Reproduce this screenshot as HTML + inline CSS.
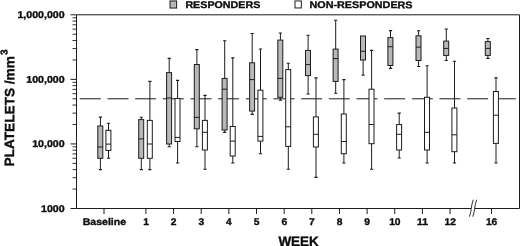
<!DOCTYPE html>
<html><head><meta charset="utf-8"><title>Platelets by week</title>
<style>html,body{margin:0;padding:0;background:#fff;overflow:hidden;}svg{display:block;}.t{font-family:'Liberation Sans',Arial,Helvetica,sans-serif;font-weight:bold;}</style>
</head><body>
<svg xmlns="http://www.w3.org/2000/svg" width="520" height="246" viewBox="0 0 520 246">
<rect x="0" y="0" width="520" height="246" fill="#fff"/>
<g stroke="#1c1c1c" stroke-width="1" fill="none">
<path d="M76.5 14.8H519.5V208.5H76.5Z"/>
<path d="M70.5 208.50H76.5"/>
<path d="M72.5 189.06H76.5" stroke-width="0.9"/>
<path d="M72.5 177.69H76.5" stroke-width="0.9"/>
<path d="M72.5 169.63H76.5" stroke-width="0.9"/>
<path d="M72.5 163.37H76.5" stroke-width="0.9"/>
<path d="M72.5 158.26H76.5" stroke-width="0.9"/>
<path d="M72.5 153.93H76.5" stroke-width="0.9"/>
<path d="M72.5 150.19H76.5" stroke-width="0.9"/>
<path d="M72.5 146.89H76.5" stroke-width="0.9"/>
<path d="M70.5 143.93H76.5"/>
<path d="M72.5 124.50H76.5" stroke-width="0.9"/>
<path d="M72.5 113.13H76.5" stroke-width="0.9"/>
<path d="M72.5 105.06H76.5" stroke-width="0.9"/>
<path d="M72.5 98.80H76.5" stroke-width="0.9"/>
<path d="M72.5 93.69H76.5" stroke-width="0.9"/>
<path d="M72.5 89.37H76.5" stroke-width="0.9"/>
<path d="M72.5 85.62H76.5" stroke-width="0.9"/>
<path d="M72.5 82.32H76.5" stroke-width="0.9"/>
<path d="M70.5 79.37H76.5"/>
<path d="M72.5 59.93H76.5" stroke-width="0.9"/>
<path d="M72.5 48.56H76.5" stroke-width="0.9"/>
<path d="M72.5 40.49H76.5" stroke-width="0.9"/>
<path d="M72.5 34.24H76.5" stroke-width="0.9"/>
<path d="M72.5 29.12H76.5" stroke-width="0.9"/>
<path d="M72.5 24.80H76.5" stroke-width="0.9"/>
<path d="M72.5 21.06H76.5" stroke-width="0.9"/>
<path d="M72.5 17.75H76.5" stroke-width="0.9"/>
<path d="M70.5 14.80H76.5"/>
<path d="M104.00 208.5V214.0"/>
<path d="M145.90 208.5V214.0"/>
<path d="M173.55 208.5V214.0"/>
<path d="M201.20 208.5V214.0"/>
<path d="M228.85 208.5V214.0"/>
<path d="M256.50 208.5V214.0"/>
<path d="M284.15 208.5V214.0"/>
<path d="M311.80 208.5V214.0"/>
<path d="M339.45 208.5V214.0"/>
<path d="M367.10 208.5V214.0"/>
<path d="M394.75 208.5V214.0"/>
<path d="M422.40 208.5V214.0"/>
<path d="M450.05 208.5V214.0"/>
<path d="M491.50 208.5V214.0"/>
</g>
<path d="M469.4 216.7C471.6 211.5 471.0 205.0 473.3 199.7L476.7 199.7C474.4 205.0 475.0 211.5 472.8 216.7Z" fill="#fff" stroke="none"/>
<g stroke="#1c1c1c" stroke-width="0.9" fill="none"><path d="M469.4 216.7C471.6 211.5 471.0 205.0 473.3 199.7M472.8 216.7C475.0 211.5 474.4 205.0 476.7 199.7"/></g>
<g stroke="#1c1c1c" stroke-width="1">
<path d="M79.80 98.80H100.80"/>
<path d="M107.47 98.80H128.47"/>
<path d="M135.14 98.80H156.14"/>
<path d="M162.81 98.80H183.81"/>
<path d="M190.48 98.80H211.48"/>
<path d="M218.15 98.80H239.15"/>
<path d="M245.82 98.80H266.82"/>
<path d="M273.49 98.80H294.49"/>
<path d="M301.16 98.80H322.16"/>
<path d="M328.83 98.80H349.83"/>
<path d="M356.50 98.80H377.50"/>
<path d="M384.17 98.80H405.17"/>
<path d="M411.84 98.80H432.84"/>
<path d="M439.51 98.80H460.51"/>
<path d="M467.18 98.80H488.18"/>
<path d="M494.85 98.80H515.85"/>
</g>
<g stroke="#1c1c1c" stroke-width="1" fill="none"><path d="M100.40 117.10V126.00M100.40 158.30V169.60"/><path d="M98.80 117.10H102.00M98.80 169.60H102.00" stroke-width="1.1"/><rect x="97.80" y="126.00" width="5.0" height="32.30" fill="#b8b8b8"/><path d="M97.80 147.00H102.80"/></g>
<g stroke="#1c1c1c" stroke-width="1" fill="none"><path d="M141.30 117.30V119.60M141.30 158.30V169.60"/><path d="M139.70 117.30H142.90M139.70 169.60H142.90" stroke-width="1.1"/><rect x="138.70" y="119.60" width="5.0" height="38.70" fill="#b8b8b8"/><path d="M138.70 138.90H143.70"/></g>
<g stroke="#1c1c1c" stroke-width="1" fill="none"><path d="M169.20 58.40V72.60M169.20 144.00V146.70"/><path d="M167.60 58.40H170.80M167.60 146.70H170.80" stroke-width="1.1"/><rect x="166.60" y="72.60" width="5.0" height="71.40" fill="#b8b8b8"/><path d="M166.60 98.00H171.60"/></g>
<g stroke="#1c1c1c" stroke-width="1" fill="none"><path d="M196.90 49.60V64.50M196.90 128.80V146.70"/><path d="M195.30 49.60H198.50M195.30 146.70H198.50" stroke-width="1.1"/><rect x="194.30" y="64.50" width="5.0" height="64.30" fill="#b8b8b8"/><path d="M194.30 117.40H199.30"/></g>
<g stroke="#1c1c1c" stroke-width="1" fill="none"><path d="M224.70 40.70V78.40M224.70 130.00V132.40"/><path d="M223.10 40.70H226.30M223.10 132.40H226.30" stroke-width="1.1"/><rect x="222.10" y="78.40" width="5.0" height="51.60" fill="#b8b8b8"/><path d="M222.10 89.20H227.10"/></g>
<g stroke="#1c1c1c" stroke-width="1" fill="none"><path d="M252.20 33.50V62.80M252.20 111.10V114.40"/><path d="M250.60 33.50H253.80M250.60 114.40H253.80" stroke-width="1.1"/><rect x="249.60" y="62.80" width="5.0" height="48.30" fill="#b8b8b8"/><path d="M249.60 79.60H254.60"/></g>
<g stroke="#1c1c1c" stroke-width="1" fill="none"><path d="M280.40 33.00V40.10M280.40 97.30V100.20"/><path d="M278.80 33.00H282.00M278.80 100.20H282.00" stroke-width="1.1"/><rect x="277.80" y="40.10" width="5.0" height="57.20" fill="#b8b8b8"/><path d="M277.80 78.40H282.80"/></g>
<g stroke="#1c1c1c" stroke-width="1" fill="none"><path d="M308.10 35.30V50.40M308.10 75.60V94.00"/><path d="M306.50 35.30H309.70M306.50 94.00H309.70" stroke-width="1.1"/><rect x="305.50" y="50.40" width="5.0" height="25.20" fill="#b8b8b8"/><path d="M305.50 64.60H310.50"/></g>
<g stroke="#1c1c1c" stroke-width="1" fill="none"><path d="M335.70 20.30V49.10M335.70 81.40V93.20"/><path d="M334.10 20.30H337.30M334.10 93.20H337.30" stroke-width="1.1"/><rect x="333.10" y="49.10" width="5.0" height="32.30" fill="#b8b8b8"/><path d="M333.10 58.60H338.10"/></g>
<g stroke="#1c1c1c" stroke-width="1" fill="none"><path d="M363.10 36.00V36.00M363.10 60.00V75.10"/><path d="M361.50 75.10H364.70" stroke-width="1.1"/><rect x="360.50" y="36.00" width="5.0" height="24.00" fill="#b8b8b8"/><path d="M360.50 51.30H365.50"/></g>
<g stroke="#1c1c1c" stroke-width="1" fill="none"><path d="M390.50 30.60V37.60M390.50 65.50V68.40"/><path d="M388.90 30.60H392.10M388.90 68.40H392.10" stroke-width="1.1"/><rect x="387.90" y="37.60" width="5.0" height="27.90" fill="#b8b8b8"/><path d="M387.90 46.70H392.90"/></g>
<g stroke="#1c1c1c" stroke-width="1" fill="none"><path d="M418.60 30.70V35.80M418.60 60.50V66.50"/><path d="M417.00 30.70H420.20M417.00 66.50H420.20" stroke-width="1.1"/><rect x="416.00" y="35.80" width="5.0" height="24.70" fill="#b8b8b8"/><path d="M416.00 47.10H421.00"/></g>
<g stroke="#1c1c1c" stroke-width="1" fill="none"><path d="M446.30 29.00V41.10M446.30 55.40V60.50"/><path d="M444.70 29.00H447.90M444.70 60.50H447.90" stroke-width="1.1"/><rect x="443.70" y="41.10" width="5.0" height="14.30" fill="#b8b8b8"/><path d="M443.70 48.40H448.70"/></g>
<g stroke="#1c1c1c" stroke-width="1" fill="none"><path d="M487.90 38.50V41.60M487.90 55.40V58.40"/><path d="M486.30 38.50H489.50M486.30 58.40H489.50" stroke-width="1.1"/><rect x="485.30" y="41.60" width="5.0" height="13.80" fill="#b8b8b8"/><path d="M485.30 48.40H490.30"/></g>
<g stroke="#1c1c1c" stroke-width="1" fill="none"><path d="M108.50 123.20V130.30M108.50 150.40V158.30"/><path d="M106.90 123.20H110.10M106.90 158.30H110.10" stroke-width="1.1"/><rect x="105.90" y="130.30" width="5.0" height="20.10" fill="#fff"/><path d="M105.90 144.10H110.90"/></g>
<g stroke="#1c1c1c" stroke-width="1" fill="none"><path d="M149.90 81.40V120.40M149.90 158.30V169.60"/><path d="M148.30 81.40H151.50M148.30 169.60H151.50" stroke-width="1.1"/><rect x="147.30" y="120.40" width="5.0" height="37.90" fill="#fff"/><path d="M147.30 144.00H152.30"/></g>
<g stroke="#1c1c1c" stroke-width="1" fill="none"><path d="M177.60 80.40V98.50M177.60 141.50V163.00"/><path d="M176.00 80.40H179.20M176.00 163.00H179.20" stroke-width="1.1"/><rect x="175.00" y="98.50" width="5.0" height="43.00" fill="#fff"/><path d="M175.00 137.40H180.00"/></g>
<g stroke="#1c1c1c" stroke-width="1" fill="none"><path d="M205.00 95.40V120.40M205.00 150.00V169.30"/><path d="M203.40 95.40H206.60M203.40 169.30H206.60" stroke-width="1.1"/><rect x="202.40" y="120.40" width="5.0" height="29.60" fill="#fff"/><path d="M202.40 132.30H207.40"/></g>
<g stroke="#1c1c1c" stroke-width="1" fill="none"><path d="M232.80 57.90V126.50M232.80 156.00V163.00"/><path d="M231.20 57.90H234.40M231.20 163.00H234.40" stroke-width="1.1"/><rect x="230.20" y="126.50" width="5.0" height="29.50" fill="#fff"/><path d="M230.20 141.10H235.20"/></g>
<g stroke="#1c1c1c" stroke-width="1" fill="none"><path d="M260.50 49.00V90.20M260.50 141.10V153.70"/><path d="M258.90 49.00H262.10M258.90 153.70H262.10" stroke-width="1.1"/><rect x="257.90" y="90.20" width="5.0" height="50.90" fill="#fff"/><path d="M257.90 136.40H262.90"/></g>
<g stroke="#1c1c1c" stroke-width="1" fill="none"><path d="M288.30 63.30V69.60M288.30 146.40V169.30"/><path d="M286.70 63.30H289.90M286.70 169.30H289.90" stroke-width="1.1"/><rect x="285.70" y="69.60" width="5.0" height="76.80" fill="#fff"/><path d="M285.70 126.80H290.70"/></g>
<g stroke="#1c1c1c" stroke-width="1" fill="none"><path d="M316.00 77.90V116.90M316.00 147.00V177.40"/><path d="M314.40 77.90H317.60M314.40 177.40H317.60" stroke-width="1.1"/><rect x="313.40" y="116.90" width="5.0" height="30.10" fill="#fff"/><path d="M313.40 134.30H318.40"/></g>
<g stroke="#1c1c1c" stroke-width="1" fill="none"><path d="M343.90 79.60V114.00M343.90 153.70V163.00"/><path d="M342.30 79.60H345.50M342.30 163.00H345.50" stroke-width="1.1"/><rect x="341.30" y="114.00" width="5.0" height="39.70" fill="#fff"/><path d="M341.30 141.50H346.30"/></g>
<g stroke="#1c1c1c" stroke-width="1" fill="none"><path d="M371.60 50.40V89.20M371.60 143.70V169.30"/><path d="M370.00 50.40H373.20M370.00 169.30H373.20" stroke-width="1.1"/><rect x="369.00" y="89.20" width="5.0" height="54.50" fill="#fff"/><path d="M369.00 124.50H374.00"/></g>
<g stroke="#1c1c1c" stroke-width="1" fill="none"><path d="M399.20 113.10V124.60M399.20 150.00V158.00"/><path d="M397.60 113.10H400.80M397.60 158.00H400.80" stroke-width="1.1"/><rect x="396.60" y="124.60" width="5.0" height="25.40" fill="#fff"/><path d="M396.60 134.30H401.60"/></g>
<g stroke="#1c1c1c" stroke-width="1" fill="none"><path d="M427.10 65.80V97.30M427.10 150.00V163.00"/><path d="M425.50 65.80H428.70M425.50 163.00H428.70" stroke-width="1.1"/><rect x="424.50" y="97.30" width="5.0" height="52.70" fill="#fff"/><path d="M424.50 132.30H429.50"/></g>
<g stroke="#1c1c1c" stroke-width="1" fill="none"><path d="M454.50 61.20V108.00M454.50 151.70V163.00"/><path d="M452.90 61.20H456.10M452.90 163.00H456.10" stroke-width="1.1"/><rect x="451.90" y="108.00" width="5.0" height="43.70" fill="#fff"/><path d="M451.90 134.80H456.90"/></g>
<g stroke="#1c1c1c" stroke-width="1" fill="none"><path d="M496.00 77.90V91.50M496.00 143.40V163.00"/><path d="M494.40 77.90H497.60M494.40 163.00H497.60" stroke-width="1.1"/><rect x="493.40" y="91.50" width="5.0" height="51.90" fill="#fff"/><path d="M493.40 115.20H498.40"/></g>
<rect x="170.0" y="0.95" width="6.6" height="7.1" fill="#b8b8b8" stroke="#1c1c1c" stroke-width="1"/>
<rect x="295.0" y="0.95" width="6.3" height="7.0" fill="#fff" stroke="#1c1c1c" stroke-width="1"/>
<g class="t" fill="#0d0d0d" stroke="#0d0d0d" stroke-width="0.35">
<text transform="translate(185.40 8.05) rotate(0.05) scale(1.1043 1)" font-size="9.7" text-anchor="start">RESPONDERS</text>
<text transform="translate(309.50 8.05) rotate(0.05) scale(1.1133 1)" font-size="9.7" text-anchor="start">NON-RESPONDERS</text>
<text transform="translate(64.60 18.00) rotate(0.05) scale(1.0950 1)" font-size="9.7" text-anchor="end">1,000,000</text>
<text transform="translate(64.60 82.67) rotate(0.05) scale(1.0950 1)" font-size="9.7" text-anchor="end">100,000</text>
<text transform="translate(64.60 146.93) rotate(0.05) scale(1.0950 1)" font-size="9.7" text-anchor="end">10,000</text>
<text transform="translate(64.60 211.90) rotate(0.05) scale(1.0950 1)" font-size="9.7" text-anchor="end">1000</text>
<text transform="translate(104.40 225.00) rotate(0.05) scale(1.0850 1)" font-size="9.7" text-anchor="middle">Baseline</text>
<text transform="translate(146.00 225.00) rotate(0.05) scale(1.0600 1)" font-size="9.7" text-anchor="middle">1</text>
<text transform="translate(173.65 225.00) rotate(0.05) scale(1.0600 1)" font-size="9.7" text-anchor="middle">2</text>
<text transform="translate(201.30 225.00) rotate(0.05) scale(1.0600 1)" font-size="9.7" text-anchor="middle">3</text>
<text transform="translate(228.95 225.00) rotate(0.05) scale(1.0600 1)" font-size="9.7" text-anchor="middle">4</text>
<text transform="translate(256.60 225.00) rotate(0.05) scale(1.0600 1)" font-size="9.7" text-anchor="middle">5</text>
<text transform="translate(284.25 225.00) rotate(0.05) scale(1.0600 1)" font-size="9.7" text-anchor="middle">6</text>
<text transform="translate(311.90 225.00) rotate(0.05) scale(1.0600 1)" font-size="9.7" text-anchor="middle">7</text>
<text transform="translate(339.55 225.00) rotate(0.05) scale(1.0600 1)" font-size="9.7" text-anchor="middle">8</text>
<text transform="translate(367.20 225.00) rotate(0.05) scale(1.0600 1)" font-size="9.7" text-anchor="middle">9</text>
<text transform="translate(394.85 225.00) rotate(0.05) scale(1.0600 1)" font-size="9.7" text-anchor="middle">10</text>
<text transform="translate(422.50 225.00) rotate(0.05) scale(1.0600 1)" font-size="9.7" text-anchor="middle">11</text>
<text transform="translate(450.15 225.00) rotate(0.05) scale(1.0600 1)" font-size="9.7" text-anchor="middle">12</text>
<text transform="translate(491.60 225.00) rotate(0.05) scale(1.0600 1)" font-size="9.7" text-anchor="middle">16</text>
<text transform="translate(298.60 246.00) rotate(0.05) scale(0.9850 1)" font-size="13.7" text-anchor="middle">WEEK</text>
<text transform="translate(14.10 166.50) rotate(-89.95) scale(1.0110 1)" font-size="13.5" text-anchor="start">PLATELETS /mm</text>
<text transform="translate(7.50 55.00) rotate(-89.95) scale(1.0000 1)" font-size="10" text-anchor="start">3</text>
</g>
</svg>
</body></html>
